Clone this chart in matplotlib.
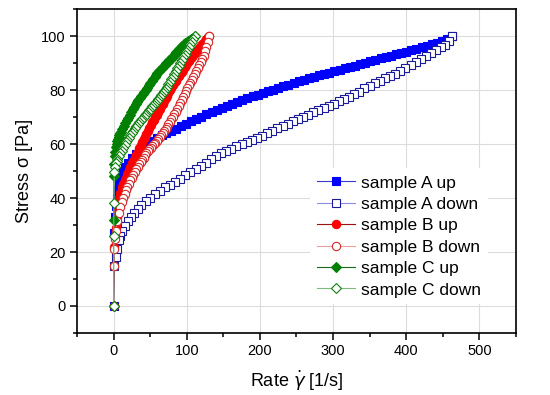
import matplotlib
matplotlib.use("Agg")
import matplotlib.pyplot as plt
from matplotlib.ticker import MultipleLocator

plt.rcParams['font.family'] = ['Liberation Sans', 'DejaVu Sans']
plt.rcParams['mathtext.fontset'] = 'dejavusans'

# sample A, ramp up (shear rate [1/s], stress [Pa])
rate_a_up = [0, 1, 2, 3, 4, 6, 8, 10, 13, 16, 20, 25, 30, 36, 42, 48, 54, 60, 66, 72,
             78, 85, 92, 99, 106, 113, 120, 127, 134, 141, 148, 155, 162, 169, 176, 183,
             190, 197, 204, 211, 218, 225, 232, 239, 246, 253, 260, 267, 274, 281, 288,
             295, 302, 309, 316, 323, 330, 337, 344, 351, 358, 365, 372, 379, 386, 393,
             400, 407, 414, 421, 428, 435, 442, 449, 456, 463]
stress_a_up = [0, 27, 33, 37, 40, 43.5, 46, 48, 50, 51.5, 53, 55, 56.3, 57.5, 58.7, 59.7,
               61, 62.2, 63.2, 64, 64.8, 65.7, 66.7, 67.6, 68.5, 69.4, 70.2, 71, 71.8, 72.5,
               73.3, 74.1, 74.8, 75.6, 76.3, 77, 77.7, 78.3, 79, 79.6, 80.2, 80.8, 81.4, 82,
               82.6, 83.2, 83.8, 84.3, 84.8, 85.4, 85.9, 86.4, 87, 87.5, 88, 88.5, 89, 89.6,
               90.1, 90.6, 91.1, 91.7, 92.2, 92.7, 93.2, 93.7, 94.2, 94.8, 95.3, 95.9, 96.4,
               97, 97.6, 98.3, 99, 100]

# sample A, ramp down
rate_a_down = [463, 458, 453, 447, 441, 434, 427, 420, 413, 406, 399, 392, 385, 378, 371,
               364, 357, 350, 343, 336, 329, 322, 315, 308, 301, 294, 287, 280, 273, 266,
               259, 252, 245, 238, 231, 224, 217, 210, 203, 196, 189, 182, 175, 168, 161,
               154, 147, 140, 133, 126, 119, 112, 105, 98, 91, 84, 77, 70, 63, 56, 50, 44,
               38, 33, 28, 24, 20, 16, 12, 9, 7, 5, 3, 0]
stress_a_down = [100, 98.2, 96.8, 95.8, 95, 93.7, 92.6, 91.5, 90.4, 89.2, 88, 86.9, 86.1,
                 85.3, 84.4, 83.5, 82.6, 81.5, 80.6, 79.4, 78.4, 77.5, 76.7, 75.9, 75, 74.2,
                 73.4, 72.6, 71.8, 70.9, 70, 69.1, 68.4, 67.6, 66.8, 65.9, 65, 64, 63.1, 62.2,
                 61.4, 60.7, 59.9, 59.1, 58.3, 57.4, 56.5, 55.5, 54.3, 53.1, 51.9, 50.8, 49.6,
                 48.4, 47.2, 46.1, 45, 43.9, 42.7, 41.4, 40, 38.8, 37.5, 36, 34.4, 33, 31.5,
                 29.8, 27.6, 26, 24.3, 21, 18, 15]

# sample B, ramp up
rate_b_up = [0, 1, 2, 3, 4, 5, 6, 7, 8, 9, 11, 13, 15, 17, 19, 21, 23, 25, 27, 29, 31, 33,
             35, 37, 39, 41, 43, 45, 47, 49, 51, 53, 55, 57, 59, 61, 63, 65, 67, 69, 71, 73,
             75, 77, 79, 81, 83, 85, 87, 89, 91, 93, 95, 97, 99, 101, 103, 105, 107, 109,
             111, 113, 115, 117, 119, 121, 123, 125, 127, 129, 131]
stress_b_up = [0, 22, 26, 29, 31, 33, 35.5, 38, 40, 42, 44, 45.3, 46.5, 47.6, 48.8, 50.3,
               51.6, 52.8, 53.9, 54.9, 56, 57.2, 58.4, 59.5, 60.6, 61.7, 62.7, 63.7, 64.8,
               65.9, 67, 68, 68.9, 69.9, 70.9, 71.9, 73, 74, 75, 75.9, 76.9, 77.9, 78.9,
               79.9, 80.8, 81.7, 82.6, 83.4, 84.3, 85.1, 86, 86.8, 87.6, 88.4, 89.2, 90,
               90.8, 91.5, 92.2, 92.9, 93.6, 94.3, 95, 95.7, 96.3, 97, 97.6, 98.3, 98.9,
               99.5, 100]

# sample B, ramp down
rate_b_down = [131, 129, 127, 125, 123, 121, 119, 117, 115, 113, 111, 109, 107, 105, 103,
               101, 99, 97, 95, 93, 91, 89, 87, 85, 83, 81, 79, 77, 75, 73, 71, 69, 67, 65,
               63, 61, 59, 57, 55, 53, 51, 49, 47, 45, 43, 41, 39, 37, 35, 33, 31, 29, 27,
               25, 23, 21, 19, 17, 15, 13, 11, 9, 7, 5, 3, 2, 1, 0]
stress_b_down = [100, 97.8, 96, 94.5, 92.6, 91.5, 90.4, 89.3, 88.3, 87.2, 86.1, 85, 83.9,
                 82.8, 81.7, 80.6, 79.5, 78.4, 77.3, 76.2, 75.1, 74.1, 73.1, 72, 71, 70.1,
                 69.1, 68.2, 67.3, 66.4, 65.6, 64.8, 64, 63.3, 62.6, 61.9, 61.2, 60.5, 59.9,
                 59.3, 58.6, 58, 57.3, 56.6, 55.8, 55, 54.2, 53.4, 52.5, 51.6, 50.7, 49.7,
                 48.7, 47.6, 46.5, 45.3, 44.1, 42.8, 41.4, 40, 38.4, 36.7, 34.6, 31.5, 27.8,
                 25, 21, 15]

# sample C, ramp up
rate_c_up = [0, 0, 0.5, 1, 1.5, 2, 3, 4, 5, 6, 7, 8, 9, 10, 12, 14, 16, 18, 20, 22, 24,
             26, 28, 30, 32, 34, 36, 38, 40, 42, 44, 46, 48, 50, 52, 54, 56, 58, 60, 62,
             64, 66, 68, 70, 72, 74, 76, 78, 80, 82, 84, 86, 88, 90, 92, 94, 96, 98, 100,
             102, 104, 106, 108, 111]
stress_c_up = [0, 32, 48, 52.5, 55.5, 57, 58.8, 60, 61, 61.9, 62.7, 63.4, 64, 64.6, 65.7,
               66.8, 67.8, 68.8, 69.8, 70.8, 71.8, 72.8, 73.8, 74.8, 75.6, 76.4, 77.1, 77.8,
               78.6, 79.4, 80.2, 80.9, 81.7, 82.5, 83.3, 84, 84.8, 85.5, 86.2, 86.9, 87.5,
               88.1, 88.7, 89.3, 89.9, 90.5, 91, 91.6, 92.2, 92.8, 93.4, 94, 94.6, 95.2,
               95.8, 96.4, 97, 97.4, 97.8, 98.2, 98.6, 99, 99.4, 100]

# sample C, ramp down
rate_c_down = [111, 109, 107, 105, 103, 101, 99, 97, 95, 93, 91, 89, 87, 85, 83, 81, 79,
               77, 75, 73, 71, 69, 67, 65, 63, 61, 59, 57, 55, 53, 51, 49, 47, 45, 43, 41,
               39, 37, 35, 33, 31, 29, 27, 25, 23, 21, 19, 17, 15, 13, 11, 9, 7, 5, 4, 3, 2,
               1, 0.5, 0.2, 0]
stress_c_down = [100, 99, 97.9, 96.9, 95.9, 95, 94, 93, 92.1, 91.2, 90.1, 89, 88, 87, 86,
                 85, 84, 83, 82.2, 81.3, 80.5, 79.7, 78.9, 78.1, 77.4, 76.7, 76, 75.3, 74.6,
                 74, 73.3, 72.6, 72, 71.3, 70.7, 70, 69.4, 68.8, 68.1, 67.4, 66.6, 65.8, 65,
                 64.2, 63.3, 62.4, 61.5, 60.6, 59.6, 58.6, 57.6, 56.6, 55.5, 54.3, 53.6,
                 52.8, 51.5, 49.5, 38, 26, 0]

fig = plt.figure(figsize=(5.5, 3.95), dpi=100)
ax = fig.add_axes([0.14, 0.157, 0.798, 0.82])

ax.plot(rate_a_up, stress_a_up, '-s', color='#3a3ad0', lw=0.8, ms=5.5,
        mfc='#0000ff', mec='#0000ff', mew=0.8, label='sample A up')
ax.plot(rate_a_down, stress_a_down, '-s', color='#8c8ce0', lw=0.8, ms=5.5,
        mfc='white', mec='#1a1a9a', mew=0.8, label='sample A down')
ax.plot(rate_b_up, stress_b_up, '-o', color='#a01010', lw=0.8, ms=6,
        mfc='#ff0000', mec='#ff0000', mew=0.8, label='sample B up')
ax.plot(rate_b_down, stress_b_down, '-o', color='#e8a0a0', lw=0.8, ms=6,
        mfc='white', mec='#d42a2a', mew=0.8, label='sample B down')
ax.plot(rate_c_up, stress_c_up, '-D', color='#1a6a1a', lw=0.8, ms=5.5,
        mfc='#008000', mec='#008000', mew=0.8, label='sample C up')
ax.plot(rate_c_down, stress_c_down, '-D', color='#80b880', lw=0.8, ms=5.5,
        mfc='white', mec='#108010', mew=0.8, label='sample C down')

ax.set_xlim(-50, 550)
ax.set_ylim(-10, 110)
ax.xaxis.set_major_locator(MultipleLocator(100))
ax.xaxis.set_minor_locator(MultipleLocator(50))
ax.yaxis.set_major_locator(MultipleLocator(20))
ax.yaxis.set_minor_locator(MultipleLocator(10))
ax.grid(True, which='major', color='#dcdcdc', lw=0.8)
ax.set_axisbelow(True)
ax.tick_params(which='both', direction='out', top=False, right=False,
               labelsize=10.5, width=1.1, color='black')
ax.tick_params(which='major', length=5, pad=3)
ax.tick_params(which='minor', length=3)
for sp in ax.spines.values():
    sp.set_linewidth(1.2)

ax.set_xlabel(r'Rate $\dot{\gamma}$ [1/s]', fontsize=13, labelpad=8)
ax.set_ylabel('Stress σ [Pa]', fontsize=13, labelpad=6)

leg = ax.legend(loc='upper left', bbox_to_anchor=(0.53, 0.508), fontsize=12.5,
                numpoints=1, handlelength=2.2, handletextpad=0.35,
                labelspacing=0.36, borderpad=0.4, borderaxespad=0,
                frameon=True, fancybox=False, framealpha=1)
leg.get_frame().set_edgecolor('none')
leg.get_frame().set_facecolor('white')

fig.savefig('out.png', dpi=100)
